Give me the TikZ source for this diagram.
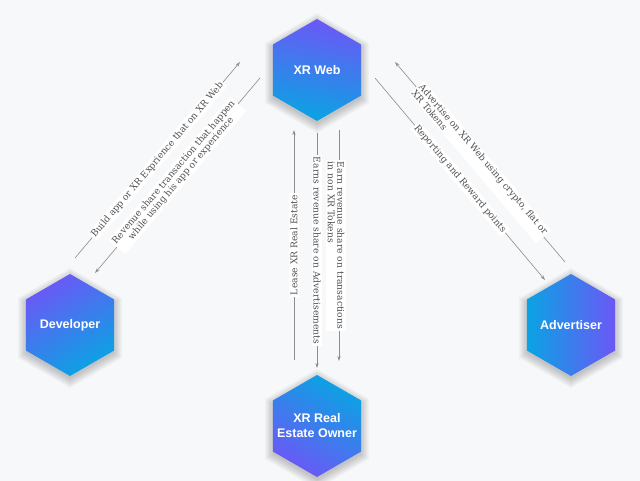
\documentclass[tikz,border=0pt]{standalone}
\usepackage{fontspec}
\setmainfont{DejaVu Serif}
\newfontfamily\hexfont{Liberation Sans}
\usetikzlibrary{arrows.meta,shapes.geometric,calc}

\definecolor{xrpurple}{HTML}{6B58F6}
\definecolor{xrcyan}{HTML}{0AA3E3}
\definecolor{linegray}{HTML}{8C8C8C}
\definecolor{textgray}{HTML}{505050}
\definecolor{pagebg}{HTML}{F7F8FA}

\tikzset{
  hexa/.style={regular polygon, regular polygon sides=6, shape border rotate=30,
    minimum size=102pt, inner sep=0pt},
  hexname/.style={text=white, align=center, font=\hexfont\bfseries\fontsize{12.5}{15}\selectfont},
  flow/.style={draw=linegray, line width=0.6pt, -{Stealth[length=5pt,width=3.2pt]}},
  tag/.style={fill=white, text=textgray, font=\fontsize{9.2}{9.6}\selectfont, inner sep=1.5pt, align=left},
}

\begin{document}
\begin{tikzpicture}[x=1pt, y=-1pt]
  \fill[pagebg] (0,0) rectangle (640,481);
  \useasboundingbox (0,0) rectangle (640,481);

  % centres and soft shadows
  \coordinate (webc) at (317,70);
  \coordinate (devc) at (70,325);
  \coordinate (advc) at (571,325);
  \coordinate (ownc) at (317,426);
  \foreach \c in {webc,devc,advc,ownc}
    \foreach \r in {0,1.5,...,9}
      \fill[black, opacity=0.03] ($(\c)+(0,3)$) +(30:51+\r) -- +(90:51+\r) -- +(150:51+\r)
        -- +(210:51+\r) -- +(270:51+\r) -- +(330:51+\r) -- cycle;

  % hexagons
  \node[hexa, top color=xrpurple, bottom color=xrcyan, shading angle=-10,
    label={[hexname]center:XR Web}] (web) at (webc) {};
  \node[hexa, top color=xrpurple, bottom color=xrcyan, shading angle=30,
    label={[hexname]center:Developer}] (dev) at (devc) {};
  \node[hexa, top color=xrpurple, bottom color=xrcyan, shading angle=-90,
    label={[hexname]center:Advertiser}] (adv) at (advc) {};
  \node[hexa, top color=xrcyan, bottom color=xrpurple, shading angle=-30,
    label={[hexname]center:XR Real\\Estate Owner}] (owner) at (ownc) {};

  % arrow ends
  \coordinate (devup) at (75,258);
  \coordinate (webdl) at (240,62);
  \coordinate (webdr) at (260,78);
  \coordinate (devin) at (95,273);
  \coordinate (advup) at (565,262);
  \coordinate (webal) at (395,62);
  \coordinate (webar) at (375,78);
  \coordinate (advin) at (545,280);
  \coordinate (ownup) at (294,360);
  \coordinate (weblease) at (294,130);
  \coordinate (webads) at (317,133);
  \coordinate (ownads) at (317,368);
  \coordinate (webtok) at (339,130);
  \coordinate (owntok) at (339,361);

  % developer side
  \draw[flow] (devup) -- node[tag, sloped] {Build app or XR Exprience that on XR Web} (webdl);
  \draw[flow] (webdr) -- node[tag, sloped, align=center] {Revenue share transaction that happen\\while using his app or experience} (devin);

  % advertiser side
  \draw[flow] (advup) -- node[tag, sloped] {Advertise on XR Web using crypto, flat or\\XR Tokens} (webal);
  \draw[flow] (webar) -- node[tag, sloped] {Reporting and Reward points} (advin);

  % real estate owner
  \draw[flow] (ownup) -- node[tag, sloped] {Lease XR Real Estate} (weblease);
  \draw[flow] (webads) -- node[tag, sloped] {Earns revenue share on Advertisements} (ownads);
  \draw[flow] (webtok) -- node[tag, sloped, yshift=-3pt] {Earn revenue share on transactions\\in non XR Tokens} (owntok);
\end{tikzpicture}
\end{document}
